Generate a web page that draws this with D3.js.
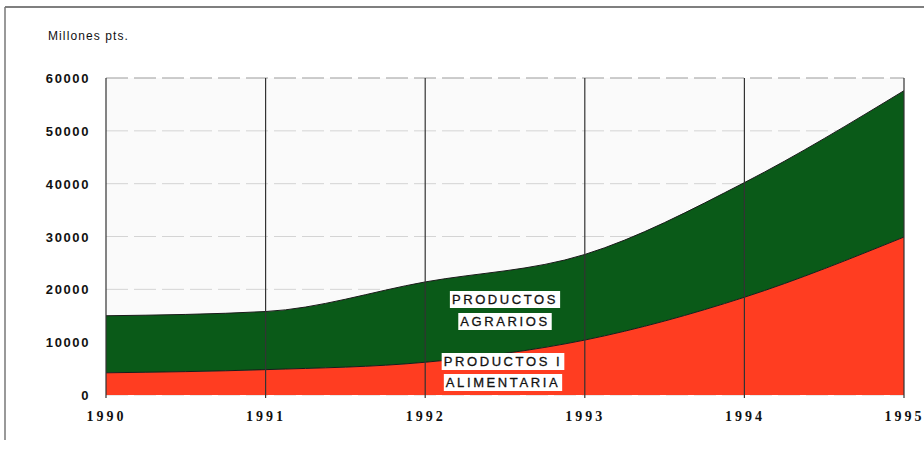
<!DOCTYPE html>
<html><head><meta charset="utf-8">
<script src="https://cdn.jsdelivr.net/npm/d3@7"></script>
<style>body{margin:0;background:#fff}svg{display:block}</style>
</head><body>
<svg id="c" width="924" height="454"></svg>
<script>
const years = [1990, 1991, 1992, 1993, 1994, 1995];
const alimentaria = [4200, 4800, 6200, 10400, 18500, 29900];
const agrarios = [10800, 11000, 15200, 16200, 21700, 27700];
const yTicks = [0, 10000, 20000, 30000, 40000, 50000, 60000];
const unitLabel = "Millones pts.";
const labelAgr = ["PRODUCTOS", "AGRARIOS"];
const labelAli = ["PRODUCTOS I", "ALIMENTARIA"];

const svg = d3.select("#c");
const x = d3.scaleLinear().domain([1990, 1995]).range([106, 904]);
const y = d3.scaleLinear().domain([0, 60000]).range([395, 78]);

// frame
svg.append("line").attr("x1", 5).attr("x2", 924).attr("y1", 7).attr("y2", 7).attr("stroke", "#555").attr("stroke-width", 1.5);
svg.append("line").attr("x1", 5).attr("x2", 5).attr("y1", 7).attr("y2", 440).attr("stroke", "#777").attr("stroke-width", 1.5);

// plot background
svg.append("rect").attr("x", x(1990)).attr("y", y(60000)).attr("width", x(1995) - x(1990)).attr("height", y(0) - y(60000)).attr("fill", "#fafafa");

// horizontal gridlines
svg.append("g").selectAll("line").data(yTicks).join("line")
  .attr("x1", x(1990)).attr("x2", x(1995)).attr("y1", d => y(d)).attr("y2", d => y(d))
  .attr("stroke", d => d === 60000 ? "#9a9a9a" : "#d4d4d4").attr("stroke-width", 1).attr("stroke-dasharray", "22,6");

const data = years.map((yr, i) => ({year: yr, ali: alimentaria[i], agr: agrarios[i]}));
const stack = d3.stack().keys(["ali", "agr"])(data);
const colors = {ali: "#ff3d21", agr: "#0a5a18"};
const area = d3.area().x(d => x(d.data.year)).y0(d => y(d[0])).y1(d => y(d[1])).curve(d3.curveMonotoneX);
const line = d3.line().x(d => x(d.data.year)).y(d => y(d[1])).curve(d3.curveMonotoneX);

svg.append("g").selectAll("path").data(stack).join("path")
  .attr("d", area).attr("fill", d => colors[d.key]);
svg.append("g").selectAll("path").data(stack).join("path")
  .attr("d", line).attr("fill", "none").attr("stroke", "#1a1a1a").attr("stroke-width", 1);

// vertical gridlines
svg.append("g").selectAll("line").data(years).join("line")
  .attr("x1", d => x(d)).attr("x2", d => x(d)).attr("y1", y(60000)).attr("y2", y(0) + 3)
  .attr("stroke", "#333").attr("stroke-width", 1.2);

// y axis labels
svg.append("g").selectAll("text").data(yTicks).join("text")
  .attr("x", 90).attr("y", d => y(d) + 5).attr("text-anchor", "end")
  .attr("font-family", "Liberation Sans, Arial, sans-serif").attr("font-weight", "bold")
  .attr("font-size", 13).attr("letter-spacing", 1.6).attr("fill", "#111").text(d => d);

// x axis labels
const xAxis = d3.axisBottom(x).tickValues(years).tickFormat(d3.format("d")).tickSize(0).tickPadding(16);
const gx = svg.append("g").attr("transform", `translate(0,${y(0)})`).call(xAxis);
gx.select(".domain").remove();
gx.selectAll("text").attr("font-family", "Liberation Serif, Times New Roman, serif").attr("font-weight", "bold")
  .attr("font-size", 14).attr("letter-spacing", 3).attr("fill", "#111");

// unit label
svg.append("text").attr("x", 48).attr("y", 40).attr("font-family", "Liberation Sans, Arial, sans-serif")
  .attr("font-size", 12).attr("letter-spacing", 1.1).attr("fill", "#111").text(unitLabel);

// series labels with white boxes
function boxLabel(lines, cx, ys) {
  lines.forEach((t, i) => {
    const g = svg.append("g");
    const tx = g.append("text").attr("x", cx).attr("y", ys[i]).attr("text-anchor", "middle")
      .attr("font-family", "Liberation Sans, Arial, sans-serif").attr("font-size", 13)
      .attr("stroke", "#111").attr("stroke-width", 0.3)
      .attr("letter-spacing", 2.6).attr("fill", "#111").text(t);
    const bb = tx.node().getBBox();
    g.insert("rect", "text").attr("x", bb.x - 2).attr("y", bb.y - 1).attr("width", bb.width + 4).attr("height", bb.height + 2).attr("fill", "#fff");
  });
}
boxLabel(labelAgr, 505, [304, 326]);
boxLabel(labelAli, 503, [366, 387]);
</script>
</body></html>
